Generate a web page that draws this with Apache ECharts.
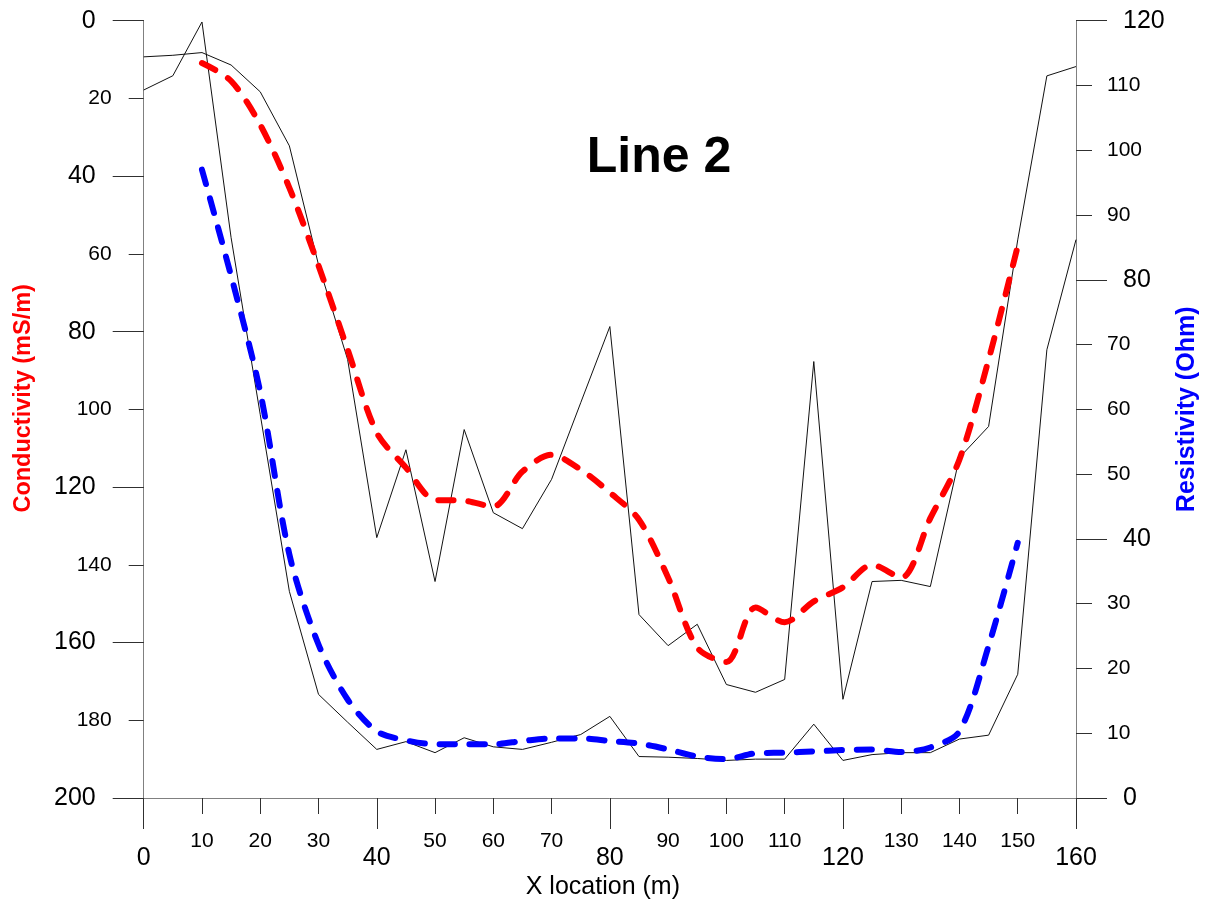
<!DOCTYPE html>
<html>
<head>
<meta charset="utf-8">
<script src="https://cdn.jsdelivr.net/npm/echarts@6/dist/echarts.min.js"></script>
<style>
html,body{margin:0;padding:0;background:#fff;}
#c{width:1208px;height:905px;}
</style>
</head>
<body>
<div id="c"></div>
<script>
// ---- data ----
const xFit = [10,15,20,25,30,35,40,45,50,55,60,65,70,75,80,85,90,95,100,105,110,115,120,125,130,135,140,145,150];
const conductivityFit = [10.9,15.5,26.8,43,63,84.6,106,115,123.3,123.5,125,116,111.7,115.5,121.4,128.4,143.3,161.3,165,151,154.8,149.4,145.8,140,143.3,128,112.9,87.2,58];
const resistivityFit = [97,80.6,62.7,37.6,23.7,15.2,10.3,8.9,8.3,8.3,8.3,8.8,9.2,9.2,8.8,8.4,7.5,6.4,6.0,6.9,7.0,7.2,7.4,7.5,7.1,7.8,10.3,23.5,39.4];

const xRaw = [0,5,10,15,20,25,30,35,40,45,50,55,60,65,70,75,80,85,90,95,100,105,110,115,120,125,130,135,140,145,150,155,160];
const conductivityRaw = [9.3,8.9,8.2,11.4,18.3,32.2,62.8,87.2,133,110.4,144.3,105.2,126.6,130.7,118,98.3,78.7,152.8,160.8,155.3,170.8,172.8,169.5,87.7,174.6,144.3,144,145.6,112.4,104.4,56.4,14.2,11.8];
const resistivityRaw = [109.3,111.5,119.8,86.5,59.2,31.9,16,11.7,7.5,8.7,7.0,9.3,7.9,7.5,8.6,9.8,12.6,6.4,6.3,6.1,5.8,6.0,6.0,11.4,5.8,6.7,7.0,7.0,9.1,9.7,19.1,69.2,86.2];

const xRange = [0, 160];
const condRange = [0, 200];
const resRange = [0, 120];
const majorStep = 40;

const titleText = 'Line 2';
const xName = 'X location (m)';
const condName = 'Conductivity (mS/m)';
const resName = 'Resistivity (Ohm)';

// ---- chart ----
const font = "'Liberation Sans', Arial, sans-serif";
const axisLineStyle = {color: '#808080', width: 1};
const tickStyle = {color: '#303030', width: 1};
const minorFmt = v => (v % majorStep === 0 ? '' : String(v));
const pairs = (xs, ys) => xs.map((x, i) => [x, ys[i]]);

function axisBase(extra) {
  return Object.assign({
    type: 'value',
    splitLine: {show: false},
    axisLine: {show: false, onZero: false},
  }, extra);
}

const option = {
  animation: false,
  backgroundColor: '#ffffff',
  textStyle: {fontFamily: font},
  grid: {left: 143.7, right: 131.3, top: 20.7, bottom: 106.3, containLabel: false},
  graphic: [{
    type: 'text', x: 659, y: 158,
    style: {text: titleText, fill: '#000', font: "bold 50px 'Liberation Sans', Arial, sans-serif", align: 'center', verticalAlign: 'middle'}
  }],
  xAxis: [
    axisBase({
      min: xRange[0], max: xRange[1], interval: 10, position: 'bottom',
      axisLine: {show: true, onZero: false, lineStyle: axisLineStyle},
      axisTick: {show: true, length: 16, lineStyle: tickStyle},
      axisLabel: {formatter: minorFmt, fontSize: 21, color: '#000', margin: 33, fontFamily: font},
      name: xName, nameLocation: 'middle', nameGap: 77,
      nameTextStyle: {fontSize: 25, color: '#000', fontFamily: font, padding: [0, 14, 0, 0]}
    }),
    axisBase({
      min: xRange[0], max: xRange[1], interval: majorStep, position: 'bottom',
      axisTick: {show: true, length: 31, lineStyle: tickStyle},
      axisLabel: {fontSize: 25, color: '#000', margin: 48, fontFamily: font}
    })
  ],
  yAxis: [
    axisBase({
      inverse: true, min: condRange[0], max: condRange[1], interval: 20, position: 'left',
      axisLine: {show: true, onZero: false, lineStyle: axisLineStyle},
      axisTick: {show: true, length: 15, lineStyle: tickStyle},
      axisLabel: {formatter: minorFmt, fontSize: 21, color: '#000', margin: 32, fontFamily: font},
      name: condName, nameLocation: 'middle', nameGap: 108, nameRotate: 90,
      nameTextStyle: {fontSize: 23.5, fontWeight: 'bold', color: '#ff0000', fontFamily: font, padding: [0, 0, 0, 22]}
    }),
    axisBase({
      inverse: true, min: condRange[0], max: condRange[1], interval: majorStep, position: 'left',
      axisTick: {show: true, length: 31, lineStyle: tickStyle},
      axisLabel: {fontSize: 25, color: '#000', margin: 48, fontFamily: font}
    }),
    axisBase({
      min: resRange[0], max: resRange[1], interval: 10, position: 'right',
      axisLine: {show: true, onZero: false, lineStyle: axisLineStyle},
      axisTick: {show: true, length: 16, lineStyle: tickStyle},
      axisLabel: {formatter: minorFmt, fontSize: 21, color: '#000', margin: 31, fontFamily: font},
      name: resName, nameLocation: 'middle', nameGap: 99, nameRotate: 90,
      nameTextStyle: {fontSize: 25, fontWeight: 'bold', color: '#0000ff', fontFamily: font}
    }),
    axisBase({
      min: resRange[0], max: resRange[1], interval: majorStep, position: 'right',
      axisTick: {show: true, length: 31, lineStyle: tickStyle},
      axisLabel: {fontSize: 25, color: '#000', margin: 47, fontFamily: font}
    })
  ],
  series: [
    {
      name: 'Conductivity raw', type: 'line', xAxisIndex: 0, yAxisIndex: 0,
      data: pairs(xRaw, conductivityRaw), showSymbol: false, symbol: 'none',
      lineStyle: {color: '#111', width: 1}, z: 2
    },
    {
      name: 'Resistivity raw', type: 'line', xAxisIndex: 0, yAxisIndex: 2,
      data: pairs(xRaw, resistivityRaw), showSymbol: false, symbol: 'none',
      lineStyle: {color: '#111', width: 1}, z: 2
    },
    {
      name: 'Conductivity', type: 'line', xAxisIndex: 0, yAxisIndex: 0,
      data: pairs(xFit, conductivityFit), showSymbol: false, symbol: 'none', smooth: 0.3,
      lineStyle: {color: '#ff0000', width: 6, type: [15, 15], cap: 'round', join: 'round'}, z: 3
    },
    {
      name: 'Resistivity', type: 'line', xAxisIndex: 0, yAxisIndex: 2,
      data: pairs(xFit, resistivityFit), showSymbol: false, symbol: 'none', smooth: 0.3,
      lineStyle: {color: '#0000ff', width: 6, type: [15, 15], cap: 'round', join: 'round'}, z: 3
    }
  ]
};

const chart = echarts.init(document.getElementById('c'), null, {renderer: 'canvas'});
chart.setOption(option);
</script>
</body>
</html>
